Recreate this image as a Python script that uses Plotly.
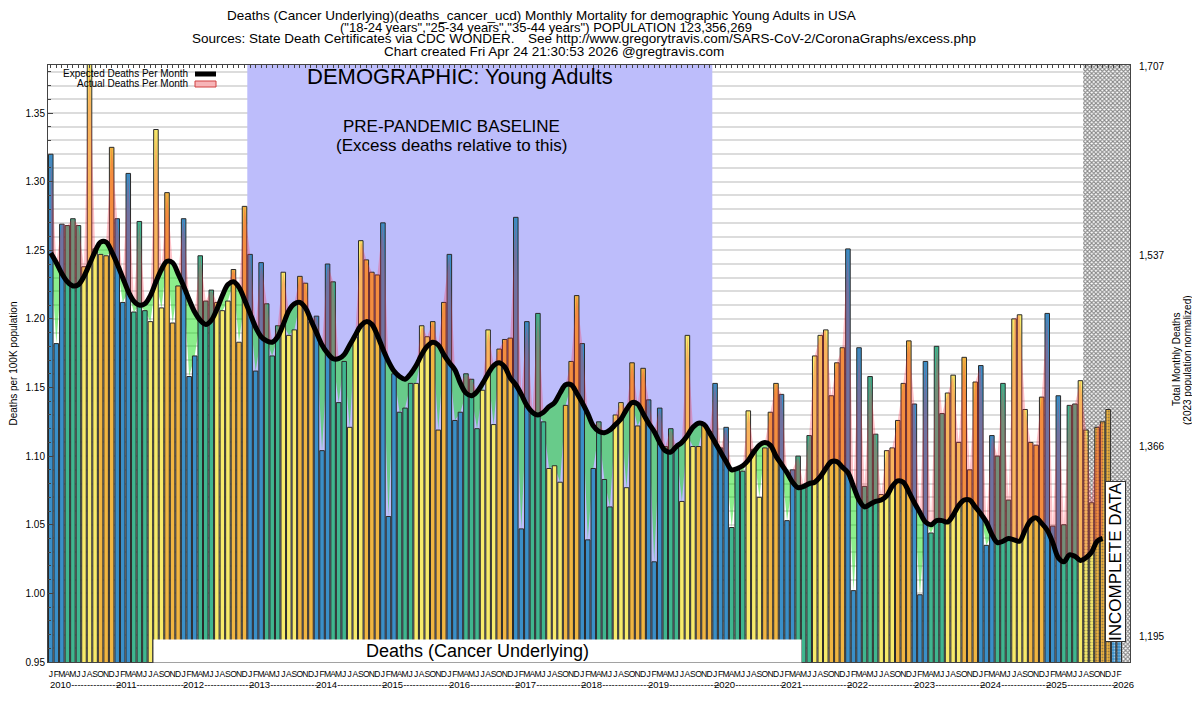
import numpy as np
import plotly.graph_objects as go

# monthly data, Jan 2010 .. Feb 2026 (deaths per 100K)
month_letters = ['J', 'F', 'M', 'A', 'M', 'J', 'J', 'A', 'S', 'O', 'N', 'D']
years = list(range(2010, 2027))

actual = [
    1.320, 1.182, 1.269, 1.268, 1.273, 1.268, 1.238, 1.395, 1.251, 1.247, 1.246, 1.325,  # 2010
    1.273, 1.212, 1.306, 1.205, 1.271, 1.206, 1.198, 1.338, 1.208, 1.292, 1.197, 1.224,  # 2011
    1.273, 1.158, 1.173, 1.246, 1.213, 1.221, 1.212, 1.206, 1.213, 1.236, 1.183, 1.282,  # 2012
    1.247, 1.162, 1.241, 1.211, 1.173, 1.195, 1.234, 1.188, 1.192, 1.231, 1.226, 1.198,  # 2013
    1.202, 1.104, 1.240, 1.227, 1.139, 1.169, 1.121, 1.187, 1.257, 1.243, 1.234, 1.232,  # 2014
    1.270, 1.056, 1.160, 1.132, 1.135, 1.153, 1.153, 1.195, 1.187, 1.198, 1.119, 1.212,  # 2015
    1.247, 1.126, 1.132, 1.160, 1.156, 1.120, 1.148, 1.192, 1.123, 1.178, 1.185, 1.186,  # 2016
    1.274, 1.047, 1.198, 1.131, 1.204, 1.125, 1.091, 1.093, 1.081, 1.137, 1.169, 1.217,  # 2017
    1.182, 1.039, 1.091, 1.125, 1.083, 1.063, 1.130, 1.139, 1.077, 1.168, 1.122, 1.164,  # 2018
    1.141, 1.023, 1.135, 1.107, 1.120, 1.106, 1.067, 1.188, 1.107, 1.107, 1.123, 1.118,  # 2019
    1.153, 1.106, 1.121, 1.048, 1.090, 1.089, 1.133, 1.105, 1.070, 1.106, 1.132, 1.153,  # 2020
    1.145, 1.053, 1.090, 1.100, 1.077, 1.115, 1.173, 1.188, 1.192, 1.144, 1.168, 1.179,  # 2021
    1.251, 1.002, 1.179, 1.078, 1.158, 1.116, 1.072, 1.104, 1.106, 1.126, 1.153, 1.184,  # 2022
    1.138, 0.999, 1.169, 1.044, 1.180, 1.131, 1.146, 1.159, 1.110, 1.172, 1.090, 1.154,  # 2023
    1.166, 1.035, 1.115, 1.100, 1.153, 1.068, 1.200, 1.203, 1.134, 1.110, 1.108, 1.143,  # 2024
    1.204, 1.049, 1.144, 1.050, 1.137, 1.138, 1.155, 1.119, 1.066, 1.121, 1.125, 1.134,  # 2025
    1.035, 1.035,                                                                          # 2026
]

expected = [
    1.248, 1.241, 1.233, 1.227, 1.224, 1.225, 1.231, 1.240, 1.249, 1.256, 1.256, 1.249,
    1.240, 1.230, 1.220, 1.213, 1.210, 1.211, 1.217, 1.227, 1.236, 1.242, 1.241, 1.233,
    1.224, 1.214, 1.205, 1.199, 1.196, 1.199, 1.207, 1.217, 1.225, 1.227, 1.223, 1.214,
    1.204, 1.194, 1.187, 1.184, 1.183, 1.187, 1.196, 1.206, 1.211, 1.212, 1.208, 1.199,
    1.190, 1.181, 1.175, 1.171, 1.171, 1.174, 1.181, 1.188, 1.195, 1.198, 1.196, 1.188,
    1.178, 1.169, 1.162, 1.158, 1.156, 1.160, 1.166, 1.174, 1.180, 1.183, 1.181, 1.174,
    1.168, 1.163, 1.153, 1.146, 1.144, 1.147, 1.153, 1.160, 1.166, 1.168, 1.165, 1.157,
    1.152, 1.145, 1.137, 1.132, 1.130, 1.132, 1.136, 1.139, 1.146, 1.152, 1.152, 1.146,
    1.139, 1.131, 1.122, 1.118, 1.117, 1.119, 1.123, 1.127, 1.134, 1.139, 1.138, 1.131,
    1.124, 1.118, 1.110, 1.104, 1.103, 1.107, 1.110, 1.115, 1.121, 1.124, 1.123, 1.117,
    1.110, 1.103, 1.096, 1.090, 1.091, 1.093, 1.097, 1.103, 1.108, 1.110, 1.108, 1.100,
    1.094, 1.088, 1.081, 1.077, 1.078, 1.080, 1.081, 1.085, 1.091, 1.096, 1.096, 1.092,
    1.088, 1.078, 1.068, 1.063, 1.065, 1.067, 1.068, 1.071, 1.078, 1.082, 1.081, 1.074,
    1.066, 1.059, 1.052, 1.050, 1.053, 1.053, 1.052, 1.057, 1.064, 1.068, 1.068, 1.063,
    1.058, 1.052, 1.043, 1.037, 1.038, 1.040, 1.039, 1.038, 1.046, 1.053, 1.055, 1.051,
    1.046, 1.037, 1.026, 1.023, 1.028, 1.027, 1.024, 1.026, 1.030, 1.038, 1.040,
]

right_ticks = [1195, 1366, 1537, 1707]
right_tick_text = ['1,195', '1,366', '1,537', '1,707']
population = 123356269
baseline_first, baseline_last = 36, 119   # Jan 2013 .. Dec 2019
incomplete_from = 187                     # Aug 2025 onward

# styling
season_colors = ['#3a8fc8', '#3fb68f', '#f7ea6a', '#f0b541']   # JFM, AMJ, JAS, OND
y_range = [0.95, 1.385]
x_range = [-0.5, 194.95]
narrow = 'Liberation Sans Narrow, Arial Narrow, Liberation Sans, Arial'
sans = 'Liberation Sans, Arial, Helvetica'

# the page body has an 8px margin on every side: keep the figure inside the
# window (no scrollbars) and give the plot area in page pixels
PAGE_OFF = 8
W, H = 1200 - 2 * PAGE_OFF, 703 - 2 * PAGE_OFF
L, R, T, B = 48, 1130, 65, 662


def paper(px, py):
    return (px - L) / (R - L), 1 - (py - T) / (B - T)


x = np.arange(len(actual))
xe = np.arange(len(expected))
exp = np.array(expected)
act = np.array(actual[:len(expected)])
upper = np.maximum(act, exp)
lower = np.minimum(act, exp)

bar_colors = [season_colors[(i % 12) // 3] for i in x]
bar_patterns = ['' if i < incomplete_from else '.' for i in x]
no_line = dict(width=0, color='rgba(0,0,0,0)')

fig = go.Figure()

# --- bottom layer (x / y): baseline band, incomplete hatch, deficit fill ---
b0, b1 = baseline_first - 0.5, baseline_last + 0.5
fig.add_trace(go.Scatter(
    x=[b0, b1, b1, b0], y=[y_range[0], y_range[0], y_range[1], y_range[1]],
    fill='toself', fillcolor='#bdbdfb', mode='lines', line=no_line,
    hoverinfo='skip', showlegend=False))
i0 = incomplete_from - 0.5
fig.add_trace(go.Scatter(
    x=[i0, x_range[1], x_range[1], i0], y=[y_range[0], y_range[0], y_range[1], y_range[1]],
    fill='toself', fillcolor='white', mode='lines', line=no_line,
    fillpattern=dict(shape='x', fgcolor='#111111', bgcolor='white', size=3, solidity=0.6),
    hoverinfo='skip', showlegend=False))
fig.add_trace(go.Scatter(x=xe, y=exp, mode='lines', line=no_line,
                         hoverinfo='skip', showlegend=False))
fig.add_trace(go.Scatter(x=xe, y=lower, mode='lines', line=no_line,
                         fill='tonexty', fillcolor='rgba(0,220,0,0.45)',
                         hoverinfo='skip', showlegend=False))

# --- top layer (x2 / y2): bars, excess fill, expected line ---
fig.add_trace(go.Bar(
    x=x, y=actual, xaxis='x2', yaxis='y2', width=0.82,
    marker=dict(color=bar_colors, line=dict(color='#2a2a2a', width=1),
                pattern=dict(shape=bar_patterns, fgcolor='#222222', size=3,
                             solidity=0.35, fillmode='overlay')),
    showlegend=False))
fig.add_trace(go.Scatter(x=xe, y=exp, xaxis='x2', yaxis='y2', mode='lines', line=no_line,
                         hoverinfo='skip', showlegend=False))
fig.add_trace(go.Scatter(x=xe, y=upper, xaxis='x2', yaxis='y2', mode='lines', line=no_line,
                         fill='tonexty', fillcolor='rgba(255,40,60,0.28)',
                         hoverinfo='skip', showlegend=False))
fig.add_trace(go.Scatter(x=xe, y=expected, xaxis='x2', yaxis='y2', mode='lines',
                         line=dict(color='black', width=5, shape='spline'),
                         showlegend=False))

# right axis (total deaths, population normalized)
fig.add_trace(go.Scatter(x=[0], y=[right_ticks[0]], xaxis='x', yaxis='y3', mode='markers',
                         marker=dict(opacity=0), hoverinfo='skip', showlegend=False))

annotations = []


def add_text(text, cx, cy, size, family=sans, xanchor='center', **kw):
    px, py = paper(cx, cy)
    annotations.append(dict(text=text, x=px, y=py, xref='paper', yref='paper', showarrow=False,
                            xanchor=xanchor, yanchor='middle',
                            font=dict(family=family, size=size, color='black'), **kw))


# title block
add_text('Deaths (Cancer Underlying)(deaths_cancer_ucd) Monthly Mortality for demographic Young Adults in USA',
         541, 15, 13.5, narrow)
add_text('("18-24 years","25-34 years","35-44 years") POPULATION 123,356,269', 546, 27, 13, narrow)
add_text('Sources: State Death Certificates via CDC WONDER.', 353, 39, 13.5, narrow)
add_text('See http://www.gregorytravis.com/SARS-CoV-2/CoronaGraphs/excess.php', 752, 39, 13.5, narrow)
add_text('Chart created Fri Apr 24 21:30:53 2026 @gregtravis.com', 554, 51, 13.5, narrow)

# in-plot labels
add_text('DEMOGRAPHIC: Young Adults', 460, 77, 22)
add_text('PRE-PANDEMIC BASELINE', 451, 127, 17)
add_text('(Excess deaths relative to this)', 451, 145, 17)
add_text('Deaths (Cancer Underlying)', 477, 651, 18, width=645, height=20, bgcolor='white')
add_text('INCOMPLETE DATA', 1115, 562, 17, textangle=-90, bgcolor='white',
         bordercolor='#333333', borderwidth=1, borderpad=0)

# legend
add_text('Expected Deaths Per Month', 190, 74, 10, xanchor='right')
add_text('Actual Deaths Per Month', 190, 84, 10, xanchor='right')

# right axis title
add_text('Total Monthly Deaths', 1176, 360, 10, textangle=-90)
add_text('(2023 population normalized)', 1187, 360, 10, textangle=-90)

# year row under the month letters
_, year_y = paper(0, 684)
for yr in years:
    text = str(yr) + ('-' * 16 if yr < years[-1] else '')
    annotations.append(dict(text=text, x=12 * (yr - years[0]) - 0.5, y=year_y, xref='x', yref='paper',
                            xanchor='left', yanchor='middle', showarrow=False,
                            font=dict(family=narrow, size=9.5, color='black')))

lx0, _ = paper(195, 0)
lx1, _ = paper(216, 0)
_, ly0 = paper(0, 74)
_, ly1 = paper(0, 81)
_, ly2 = paper(0, 87)
shapes = [
    dict(type='line', xref='paper', yref='paper', x0=lx0, x1=lx1, y0=ly0, y1=ly0,
         line=dict(color='black', width=5)),
    dict(type='rect', xref='paper', yref='paper', x0=lx0, x1=lx1, y0=ly2, y1=ly1,
         fillcolor='#f7b5b8', line=dict(color='#d04040', width=1)),
]

fig.update_layout(
    width=W, height=H,
    margin=dict(l=L - PAGE_OFF, r=W - (R - PAGE_OFF), t=T - PAGE_OFF, b=H - (B - PAGE_OFF)),
    paper_bgcolor='white', plot_bgcolor='white',
    font=dict(family=sans, size=10, color='black'),
    xaxis=dict(range=x_range, tickvals=x, ticktext=[month_letters[i % 12] for i in x],
               tickangle=0, tickfont=dict(family=narrow, size=8.5), ticks='',
               ticklabelstandoff=4,
               showgrid=False, zeroline=False, showline=True, linecolor='#444444',
               mirror=True, automargin=False),
    xaxis2=dict(range=x_range, overlaying='x', side='top', tickvals=x, ticks='inside',
                ticklen=3, tickcolor='#444444', showticklabels=False, showgrid=False,
                zeroline=False, automargin=False),
    yaxis=dict(range=y_range, dtick=0.05, tick0=0.95, tickformat='.2f',
               ticks='inside', ticklen=5, tickcolor='#444444',
               showgrid=True, gridcolor='#dcdcdc', gridwidth=1.5, zeroline=False,
               showline=True, linecolor='#444444', mirror=True, automargin=False,
               minor=dict(dtick=0.01, tick0=0.95, showgrid=True, gridcolor='#dcdcdc',
                          gridwidth=1.5, ticks='inside', ticklen=3, tickcolor='#444444'),
               title=dict(text='Deaths per 100K population', font=dict(size=10))),
    yaxis2=dict(range=y_range, overlaying='y', visible=False),
    yaxis3=dict(range=[v * population / 1e5 for v in y_range], overlaying='y', side='right',
                tickvals=right_ticks, ticktext=right_tick_text, ticks='', showgrid=False,
                zeroline=False, automargin=False, ticklabelstandoff=8),
    annotations=annotations,
    shapes=shapes,
)

fig.write_html('out.html')
